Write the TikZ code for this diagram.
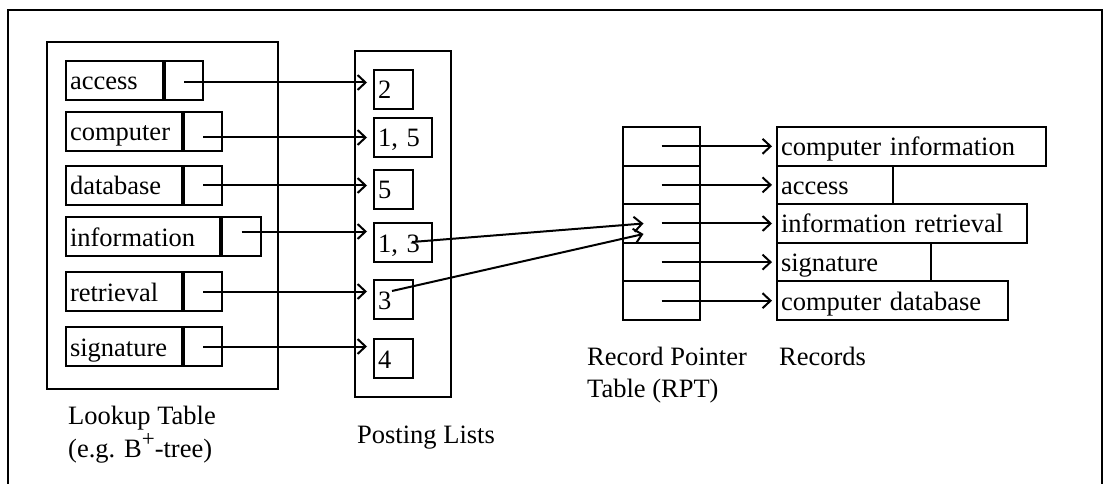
\documentclass[tikz,border=0pt]{standalone}
\usepackage{fontspec}
\setmainfont{Liberation Serif}
\usetikzlibrary{arrows.meta,calc}
\begin{document}
\begin{tikzpicture}[x=1pt,y=-1pt,
  every node/.style={font=\fontsize{26.5}{30}\selectfont},
  frame/.style={line width=2pt},
  cell/.style={draw, line width=2pt, anchor=north west, inner xsep=4pt, inner ysep=0pt,
    text height=29pt, text depth=10pt, align=left},
  ptr/.style={draw, line width=2pt, anchor=north west, inner sep=0pt,
    minimum width=38pt, minimum height=39pt},
  rpt/.style={draw, line width=2pt, anchor=north west, inner sep=0pt,
    minimum width=77pt, minimum height=38.6pt},
  rec/.style={draw, line width=2pt, anchor=north west, inner xsep=4pt, inner ysep=0pt,
    text height=28.6pt, text depth=10pt, align=left},
  arr/.style={line width=2pt, -{Straight Barb[length=8pt,width=15pt,line width=2pt]}},
  lbl/.style={anchor=base west, inner sep=0pt}]

\useasboundingbox (0,0) rectangle (1104,484);

% outer frame, open at the bottom
\draw[frame] (8,484) -- (8,10) -- (1102,10) -- (1102,484);

% lookup table
\node[draw, frame, anchor=north west, minimum width=231pt, minimum height=347pt, inner sep=0pt] (lt) at (46,41) {};
\node[cell, text width=89pt]  (k1) at (65,60)  {access};
\node[ptr] (p1) at (k1.north east) {};
\node[cell, text width=108pt] (k2) at (65,111) {computer};
\node[ptr] (p2) at (k2.north east) {};
\node[cell, text width=108pt] (k3) at (65,165) {database};
\node[ptr] (p3) at (k3.north east) {};
\node[cell, text width=146pt] (k4) at (65,216) {information};
\node[ptr, minimum width=39pt] (p4) at (k4.north east) {};
\node[cell, text width=108pt] (k5) at (65,271) {retrieval};
\node[ptr] (p5) at (k5.north east) {};
\node[cell, text width=108pt] (k6) at (65,326) {signature};
\node[ptr] (p6) at (k6.north east) {};

% posting lists
\node[draw, frame, anchor=north west, minimum width=96pt, minimum height=346pt, inner sep=0pt] (pl) at (354,50) {};
\node[cell, text width=31pt] (b1) at (373,69)  {2};
\node[cell, text width=50pt] (b2) at (373,117) {1, 5};
\node[cell, text width=31pt] (b3) at (373,169) {5};
\node[cell, text width=50pt] (b4) at (373,222) {1, 3};
\node[cell, text width=31pt] (b5) at (373,279) {3};
\node[cell, text width=31pt] (b6) at (373,338) {4};

% lookup entries point to their posting lists
\draw[arr, shorten >=6pt] ([yshift=-2pt]p1.center) -- ([yshift=-2pt]p1.center -| b1.west);
\draw[arr, shorten >=6pt] ([yshift=-6pt]p2.center) -- ([yshift=-6pt]p2.center -| b2.west);
\draw[arr, shorten >=6pt] (p3.center) -- (p3.center -| b3.west);
\draw[arr, shorten >=6pt] ([yshift=5pt]p4.center) -- ([yshift=5pt]p4.center -| b4.west);
\draw[arr, shorten >=6pt] (p5.center) -- (p5.center -| b5.west);
\draw[arr, shorten >=6pt] (p6.center) -- (p6.center -| b6.west);

% record pointer table
\node[rpt] (r1) at (622,126) {};
\node[rpt] (r2) at (622,164.6) {};
\node[rpt] (r3) at (622,203.2) {};
\node[rpt] (r4) at (622,241.8) {};
\node[rpt] (r5) at (622,280.4) {};

% records
\node[rec, text width=261pt] (c1) at (776,126)   {computer information};
\node[rec, text width=108pt] (c2) at (776,164.6) {access};
\node[rec, text width=242pt] (c3) at (776,203.2) {information retrieval};
\node[rec, text width=146pt] (c4) at (776,241.8) {signature};
\node[rec, text width=223pt] (c5) at (776,280.4) {computer database};

\foreach \i in {1,...,5}
  \draw[arr, shorten >=4pt] (r\i.center) -- (r\i.center -| c\i.west);

% postings 1,3 and 3 lead to the record pointer of record 3
\coordinate (s4) at ($(b4.north west)+(39,20)$);
\coordinate (s5) at ($(b5.north west)+(19,12)$);
\coordinate (t4) at ($(r3.center)+(-18,0)$);
\coordinate (t5) at ($(r3.center)+(-18,10.5)$);
\draw[arr] (s4) -- (t4);
\draw[arr] (s5) -- (t5);

% captions
\node[lbl] (cap1) at (68,424) {Lookup Table};
\node[lbl] (cap2) at (68,457) {(e.g. B\raisebox{0.4em}{\fontsize{23}{24}\selectfont +}-tree)};
\node[lbl] (cap3) at (357,443) {Posting Lists};
\node[lbl] (cap4) at (587,365) {Record Pointer};
\node[lbl] (cap5) at (587,397) {Table (RPT)};
\node[lbl] (cap6) at (779,365) {Records};
\end{tikzpicture}
\end{document}
